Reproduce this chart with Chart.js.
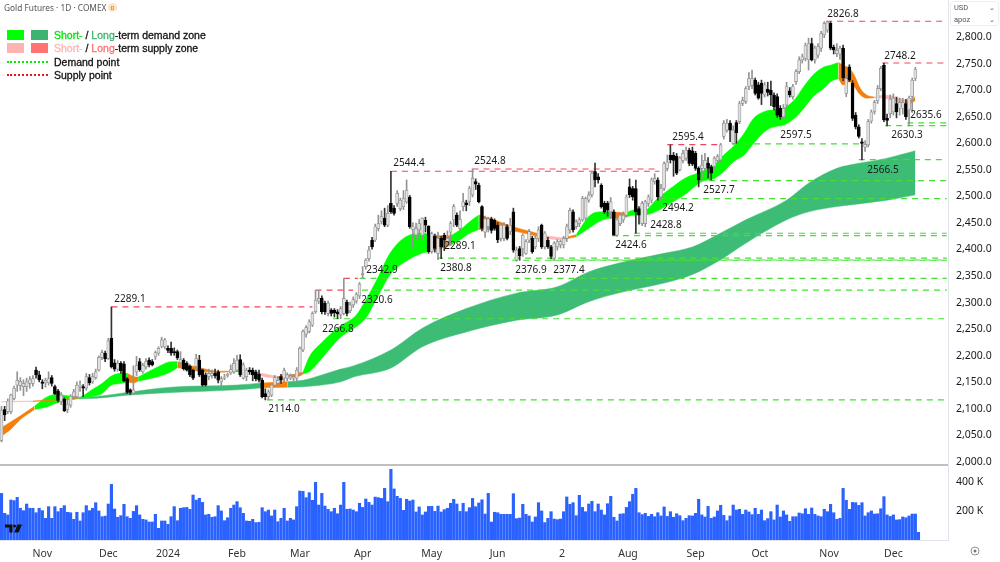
<!DOCTYPE html>
<html>
<head>
<meta charset="utf-8">
<title>Gold Futures</title>
<script src="https://cdn.jsdelivr.net/npm/chart.js@4"></script>
<style>
  html, body { margin: 0; padding: 0; background: #fff; }
  #wrap { position: relative; width: 1000px; height: 562px; overflow: hidden; }
  #wrap canvas { position: absolute; left: 0; top: 0; }
  .title { position: absolute; left: 4px; top: 2px; font: 8.3px/11px "Noto Sans", sans-serif; color: #555; white-space: nowrap; }
  .badge { position: absolute; left: 108px; top: 3px; width: 9px; height: 9px; border-radius: 50%; background: #ffe5c7; color: #f08a24; font: bold 6px/9px Roboto, sans-serif; text-align: center; }
  .legend { position: absolute; left: 7px; top: 29px; font: 10.5px/13.4px "Liberation Sans", sans-serif; color: #111; -webkit-text-stroke: 0.3px currentColor; }
  .row { height: 13.4px; position: relative; padding-left: 47px; white-space: nowrap; }
  .sw { position: absolute; top: 1px; width: 17px; height: 10px; }
  .dots { position: absolute; left: 0; top: 5px; width: 41px; border-top: 2.5px dotted; }
  .select { position: absolute; left: 952px; width: 46px; height: 12px; font: 7.5px/12px Roboto, sans-serif; color: #555; box-sizing: border-box; padding-left: 2px; }
  .select i { position: absolute; right: 3px; top: 0; font-style: normal; font-size: 7px; }
  .box { position: absolute; left: 950px; top: 1px; width: 49px; height: 25px; border: 1px solid #eceef2; border-radius: 3px; box-sizing: border-box; background: #fff; }
  svg { position: absolute; }
</style>
</head>
<body>
<div id="wrap">
  <canvas id="goldChart" width="1000" height="562"></canvas>
  <div class="title">Gold Futures · 1D · COMEX</div>
  <div class="badge">D</div>
  <div class="legend">
    <div class="row"><span class="sw" style="left:0;background:#00ff00"></span><span class="sw" style="left:24px;background:#3cb371"></span><span style="color:#00e600">Short-</span> / <span style="color:#3cb371">Long</span>-term demand zone</div>
    <div class="row"><span class="sw" style="left:0;background:#ffb3b3"></span><span class="sw" style="left:24px;background:#ff7373"></span><span style="color:#ffb3b3">Short-</span> / <span style="color:#ff7373">Long</span>-term supply zone</div>
    <div class="row"><span class="dots" style="color:#00ee00"></span>Demand point</div>
    <div class="row"><span class="dots" style="color:#f01020"></span>Supply point</div>
  </div>
  <div class="box"></div>
  <div class="select" style="top:2px">USD<i>⌄</i></div>
  <div class="select" style="top:14px">apoz<i>⌄</i></div>
  <svg style="left:5px;top:524px" width="18" height="10" viewBox="0 0 18 10">
    <path d="M0 0.5h7.5v8h-3.2v-5H0z" fill="#111"/><circle cx="9.6" cy="2" r="1.5" fill="#111"/><path d="M12.5 0.5h4.5l-3.4 8h-4.4z" fill="#111"/>
  </svg>
  <svg style="left:970px;top:546px" width="10" height="10" viewBox="0 0 10 10">
    <circle cx="5" cy="5" r="4" fill="none" stroke="#777" stroke-width="0.8"/><circle cx="5" cy="5" r="1.5" fill="#777"/>
  </svg>
</div>
<script>
// Daily candles
const opens = [
  2038,2096,2092,2092,2117,2142,2141,2139,2139,2145,
  2145,2170,2161,2148,2146,2146,2156,2139,2131,2111,
  2115,2096,2104,2120,2120,2140,2139,2136,2156,2148,
  2156,2170,2194,2202,2192,2230,2184,2172,2183,2182,
  2154,2133,2127,2167,2186,2167,2176,2189,2186,2195,
  2202,2215,2214,2211,2211,2205,2205,2184,2189,2183,
  2177,2170,2177,2189,2170,2161,2158,2160,2164,2167,
  2148,2155,2160,2165,2167,2170,2190,2155,2158,2170,
  2170,2167,2162,2151,2126,2120,2123,2142,2145,2158,
  2155,2155,2155,2155,2155,2165,2208,2238,2243,2255,
  2280,2300,2305,2296,2277,2283,2283,2280,2274,2277,
  2298,2282,2293,2300,2310,2350,2365,2380,2415,2415,
  2437,2449,2456,2443,2484,2475,2484,2474,2478,2487,
  2496,2435,2424,2434,2424,2452,2441,2393,2422,2390,
  2418,2424,2412,2430,2453,2462,2437,2478,2485,2487,
  2500,2525,2518,2478,2430,2440,2455,2452,2443,2418,
  2418,2440,2431,2468,2377,2399,2399,2390,2415,2418,
  2402,2418,2443,2402,2415,2402,2381,2402,2406,2406,
  2418,2434,2468,2440,2446,2453,2456,2490,2500,2544,
  2534,2518,2484,2484,2468,2468,2424,2446,2453,2462,
  2515,2512,2512,2474,2446,2446,2484,2490,2525,2528,
  2496,2512,2550,2575,2575,2573,2547,2565,2569,2584,
  2583,2578,2550,2550,2550,2560,2553,2553,2565,2566,
  2610,2622,2635,2597,2636,2638,2672,2676,2704,2706,
  2716,2707,2710,2688,2699,2697,2688,2685,2663,2647,
  2669,2696,2685,2713,2732,2754,2757,2754,2785,2754,
  2763,2776,2801,2810,2823,2778,2766,2765,2776,2691,
  2741,2710,2650,2628,2600,2590,2594,2639,2657,2677,
  2700,2744,2644,2653,2656,2672,2663,2663,2672,2660,
  2685,2719
];
const highs = [
  2102,2102,2116,2125,2140,2167,2156,2152,2155,2158,
  2160,2176,2168,2152,2155,2167,2160,2142,2134,2128,
  2118,2115,2124,2134,2148,2150,2143,2164,2162,2164,
  2172,2197,2208,2206,2230,2289.1,2190,2188,2186,2186,
  2156,2135,2178,2196,2192,2183,2192,2193,2190,2206,
  2214,2232,2230,2216,2223,2212,2208,2205,2192,2186,
  2180,2172,2200,2198,2172,2165,2172,2170,2172,2170,
  2158,2162,2164,2180,2192,2198,2199,2184,2174,2175,
  2174,2170,2170,2155,2135,2133,2145,2160,2158,2162,
  2174,2165,2163,2162,2175,2214,2246,2254,2265,2280,
  2320.6,2320,2310,2300,2300,2286,2286,2284,2290,2342.9,
  2302,2298,2308,2316,2335,2365,2380,2403,2420,2445,
  2462,2470,2475,2480,2544.4,2480,2508,2494,2508,2528,
  2499,2448,2447,2454,2457,2458,2442,2430,2426,2430,
  2422,2428,2432,2450,2482,2466,2470,2503,2490,2516,
  2549,2530,2522,2480,2460,2458,2458,2455,2448,2446,
  2448,2444,2456,2475,2402,2403,2427,2416,2435,2422,
  2422,2440,2445,2431,2420,2405,2412,2416,2415,2422,
  2445,2475,2472,2453,2457,2497,2496,2506,2545,2560,
  2540,2521,2488,2488,2495,2472,2458,2466,2468,2500,
  2530,2516,2528,2478,2488,2490,2500,2532,2540,2532,
  2520,2562,2575,2594,2580,2578,2572,2584,2590,2588,
  2590,2582,2553,2575,2578,2570,2556,2572,2576,2597,
  2640,2642,2640,2630,2640,2676,2684,2704,2730,2735,
  2720,2712,2716,2712,2712,2714,2692,2690,2668,2670,
  2712,2702,2708,2736,2760,2765,2786,2795,2795,2780,
  2785,2808,2826,2826.8,2826,2782,2785,2780,2782,2723,
  2745,2715,2655,2632,2606,2602,2642,2660,2678,2706,
  2742,2748.2,2652,2688,2690,2684,2682,2682,2680,2686,
  2720,2740
];
const lows = [
  2035,2075,2088,2088,2114,2130,2132,2122,2130,2136,
  2140,2155,2148,2135,2138,2142,2140,2124,2110,2105,
  2092,2090,2100,2115,2118,2130,2120,2132,2142,2145,
  2153,2168,2190,2186,2190,2174,2168,2168,2164,2148,
  2126,2124,2124,2160,2168,2164,2172,2176,2178,2190,
  2198,2212,2210,2203,2198,2198,2190,2180,2170,2168,
  2158,2152,2172,2158,2140,2140,2152,2155,2155,2146,
  2140,2152,2157,2162,2164,2168,2158,2153,2150,2162,
  2150,2150,2148,2118,2114,2114,2120,2140,2142,2145,
  2148,2150,2152,2150,2150,2162,2205,2232,2240,2252,
  2277,2295,2276,2275,2272,2272,2270,2267,2267,2274,
  2272,2278,2288,2296,2305,2343,2360,2375,2398,2412,
  2432,2445,2440,2440,2465,2462,2478,2470,2472,2484,
  2437,2400,2415,2420,2417,2430,2390,2390,2392,2378,
  2380,2395,2405,2405,2440,2440,2434,2470,2470,2480,
  2496,2510,2485,2432,2420,2430,2428,2433,2410,2413,
  2414,2415,2425,2392,2375,2377,2384,2388,2410,2390,
  2398,2412,2399,2398,2399,2380,2377,2396,2400,2400,
  2412,2428,2430,2436,2440,2450,2452,2486,2496,2515,
  2522,2475,2465,2460,2455,2424,2422,2442,2448,2458,
  2495,2490,2428,2445,2442,2440,2478,2485,2520,2490,
  2490,2508,2545,2560,2535,2538,2545,2560,2565,2555,
  2555,2546,2515,2530,2546,2532,2528,2548,2560,2562,
  2605,2618,2600,2595,2597,2634,2668,2672,2698,2700,
  2688,2680,2670,2684,2686,2668,2660,2646,2642,2642,
  2666,2684,2680,2708,2728,2748,2752,2735,2752,2748,
  2758,2770,2796,2806,2773,2765,2760,2755,2715,2685,
  2713,2640,2624,2607,2566,2582,2590,2635,2652,2672,
  2696,2638,2630,2645,2650,2645,2650,2652,2642,2630,
  2655,2715
];
const closes = [
  2095,2086,2112,2123,2136,2151,2149,2145,2148,2152,
  2154,2161,2152,2145,2151,2154,2145,2126,2113,2123,
  2094,2106,2121,2129,2142,2142,2136,2158,2146,2158,
  2167,2194,2203,2191,2225,2176,2172,2183,2169,2150,
  2128,2128,2133,2179,2171,2179,2186,2180,2180,2203,
  2211,2227,2227,2207,2202,2203,2193,2190,2173,2170,
  2161,2155,2192,2161,2142,2142,2164,2164,2159,2151,
  2154,2157,2162,2171,2183,2189,2161,2180,2170,2167,
  2161,2154,2151,2120,2120,2129,2142,2156,2151,2151,
  2169,2161,2159,2158,2170,2211,2243,2250,2261,2277,
  2302,2305,2280,2280,2296,2277,2278,2276,2286,2305,
  2277,2293,2303,2313,2332,2352,2377,2396,2402,2440,
  2446,2459,2443,2465,2468,2465,2503,2490,2493,2509,
  2440,2440,2437,2446,2456,2443,2393,2427,2399,2418,
  2402,2415,2418,2446,2478,2443,2454,2487,2481,2512,
  2531,2520,2487,2437,2455,2455,2433,2437,2415,2443,
  2443,2418,2443,2396,2396,2385,2424,2412,2431,2393,
  2418,2434,2402,2428,2402,2384,2409,2412,2412,2418,
  2440,2471,2434,2449,2453,2493,2493,2500,2541,2528,
  2528,2478,2468,2471,2487,2424,2453,2462,2462,2496,
  2500,2496,2468,2462,2484,2487,2496,2528,2531,2496,
  2512,2559,2562,2566,2565,2541,2569,2578,2584,2559,
  2558,2550,2528,2556,2565,2550,2541,2569,2572,2594,
  2635,2635,2622,2622,2617,2672,2678,2700,2719,2719,
  2691,2682,2691,2707,2693,2688,2666,2650,2647,2663,
  2704,2688,2704,2732,2754,2760,2782,2785,2754,2776,
  2779,2804,2823,2825,2776,2773,2772,2776,2720,2719,
  2716,2644,2628,2610,2597,2595,2638,2656,2674,2700,
  2738,2641,2640,2680,2682,2656,2674,2674,2647,2682,
  2716,2736
];
// Volume per day, in thousands
const volumes = [
  316,181,170,271,267,289,215,199,244,215,215,185,215,199,147,226,147,226,192,215,
  233,188,185,140,188,129,185,233,199,215,253,197,158,162,244,377,210,154,165,242,
  158,147,194,233,170,140,136,122,122,174,79,129,129,106,158,226,131,215,219,221,
  208,305,271,283,255,170,174,154,158,233,197,131,151,215,237,260,219,181,129,127,
  140,118,120,219,192,203,163,203,124,147,215,129,147,136,226,332,330,287,321,269,
  391,237,
  316,230,208,192,215,178,237,391,208,210,203,192,249,221,278,255,237,291,287,282,
  350,260,479,346,296,282,201,276,264,271,190,224,170,190,228,228,194,230,190,206,
  215,249,276,244,194,249,192,219,282,226,251,273,176,316,122,188,185,174,174,174,
  174,314,145,149,242,174,163,122,156,253,197,118,147,192,142,138,142,192,292,242,
  253,165,303,221,192,244,262,192,244,203,170,246,296,154,129,176,178,221,260,310,
  350,185,172,181,160,174,158,185,163,224,160,192,154,178,165,131,147,165,163,181,
  276,170,156,228,147,156,197,235,167,131,163,237,203,208,174,203,190,172,215,174,
  203,131,145,192,136,237,156,197,170,127,158,158,183,178,212,174,217,174,163,158,
  208,192,242,185,140,147,350,269,208,255,253,235,253,163,185,197,176,178,212,294,
  170,160,170,136,138,156,151,163,176,176,52
];

// Axis ticks
const priceTicks = [2000,2050,2100,2150,2200,2250,2300,2350,2400,2450,2500,2550,2600,2650,2700,2750,2800];
const volumeTicks = [200,400];
const monthTickIdx = [13,34,53,75,95,115,137,158,178.5,199.5,221,241.5,263.5,284];
const monthLabels = ["Nov","Dec","2024","Feb","Mar","Apr","May","Jun","2","Aug","Sep","Oct","Nov","Dec"];

// Short-term zone edges (bar index, upper, lower)
const shortIdx = [0,3,6,10.5,14,17,20,24.5,29,32,35,38,40,42,43.5,50,54,56,60,63,69,74,77,80,84,88,90,95,96,98,102,107.6,113,116,119.5,123.7,128.5,134.3,136,142,143,146,149.2,152,156,160,164,168.5,172.5,177,179,183,187.5,191.5,194,198.5,202,204.5,209,213,217.5,223,227,230,233,236.5,239.5,243,246,249,252.5,255.5,258.5,262,264,266.5,268,270,271.5,273.5,275.5,278,281,286,288,289,291];
const shortUpper = [2062,2073,2084,2102,2118,2124,2123,2119,2134,2145,2159,2164,2164,2158,2157,2177,2186,2186,2179,2175,2168,2168,2170,2167,2163,2158,2160,2164,2166,2195,2222,2252,2274,2302,2340,2390,2420,2428,2425,2423,2423,2434,2450,2462,2455,2446,2438,2431,2424,2420,2419,2425,2462,2468,2468,2466,2472,2470,2494,2512,2531,2544,2556,2575,2591,2616,2644,2657,2660,2663,2679,2704,2726,2741,2744,2749,2744,2738,2726,2700,2688,2684,2688,2682,2678,2677,2685];
const shortLower = [2046,2059,2077,2096,2100,2107,2113,2117,2120,2126,2142,2145,2148,2146,2149,2158,2167,2175,2170,2168,2166,2167,2167,2165,2157,2155,2156,2159,2163,2167,2192,2230,2252,2268,2305,2349,2374,2391,2393,2403,2405,2415,2428,2435,2435,2435,2431,2425,2419,2416,2416,2421,2439,2453,2456,2458,2462,2462,2470,2484,2500,2525,2531,2544,2562,2575,2597,2619,2628,2631,2644,2663,2685,2701,2713,2719,2707,2713,2704,2688,2682,2683,2682,2674,2672,2672,2677];
const shortBreaks = [0,10.5,40,43.5,56,74,77,88,96,136,143,152,172.5,179,183,194,198.5,266.5,278,288,291];
const shortKinds = ["fading","demand","fading","demand","fading","demand","supply","fading","demand","fading","demand","fading","supply","fading","demand","fading","demand","fading","supply","fading"];

// Long-term zone edges
const longIdx = [0,10,24.5,30,40,54,75,83,91,96,102,108,112,124,134,148,164,177,187,197,211,220,229,237,250,257,266,270,282,291];
const longUpper = [2111,2112,2117,2120,2128,2138,2142,2146,2148,2151,2161,2172,2178,2208,2249,2286,2315,2327,2355,2372,2390,2402,2428,2453,2490,2522,2550,2556,2569,2583];
const longLower = [2110,2111,2116,2117,2123,2128,2133,2137,2138,2139,2142,2148,2157,2174,2214,2242,2264,2274,2299,2316,2334,2350,2378,2409,2453,2468,2478,2481,2490,2500];
const longBreaks = [0,10,24.5,83,91,291];
const longKinds = ["supply","fading","long","fading","long"];

// Supply and demand levels
const supplyValues = [2289.1,2320.6,2342.9,2544.4,2548.7,2594.4,2826.8,2748.2];
const supplyFrom = [35,100,109,124,150,212,262.6,280.5];
const supplyTo = [99,112,113.5,209.5,209.5,229,301,301];
const demandValues = [2114,2266.8,2320.6,2342.9,2380.8,2376.9,2377.4,2423.4,2427.7,2493,2526.8,2595.8,2566.5,2635.6,2630.3];
const demandFrom = [84.5,105.6,114.8,114,138.7,162.6,174.7,194.4,201.4,209.4,221.8,232.6,273,288.4,281.4];
const demandTo = [301,301,301,301,301,301,301,301,301,301,301,273.4,301,301,301];

// Pivot labels
const pivotTexts = ["2289.1","2114.0","2266.8","2320.6","2342.9","2544.4","2289.1","2380.8","2524.8","2376.9","2377.4","2424.6","2428.8","2494.2","2527.7","2595.4","2597.5","2826.8","2748.2","2566.5","2635.6","2630.3"];

const GREEN = "#00ff00";
const ZONE_COLORS = { demand: GREEN, long: "#3cbc74", fading: "#f57f0d", supply: "#ffb6b6" };
const PIVOT_TEXT_X = [130,284,338,377,382,409,460,456,490,531,569,631,666,678,719,688,796,843,900,883,926,907];
const PIVOT_TEXT_Y = [299,409,329,300,270,163,246,268,161,270,270,245,225,208,190,137,135,14,56,170,115,135];
const AXIS_FONT = { family: '"Noto Sans", sans-serif', size: 10.5 };

/**
 * Turn zone edge lists into pairs of line datasets filled between each other
 */
function zoneDatasets(idx, upper, lower, breaks, kinds) {
  const sets = [];
  kinds.forEach((kind, s) => {
    const keep = idx.map((v, k) => k).filter((k) => idx[k] >= breaks[s] && idx[k] <= breaks[s + 1]);
    const color = ZONE_COLORS[kind];
    sets.push({
      type: "line", order: 6, borderWidth: 0.5, borderColor: color, pointRadius: 0, fill: false,
      cubicInterpolationMode: "monotone",
      data: keep.map((k) => ({ x: idx[k], y: upper[k] })),
    });
    sets.push({
      type: "line", order: 6, borderWidth: 0.5, borderColor: color, backgroundColor: color, pointRadius: 0, fill: "-1",
      cubicInterpolationMode: "monotone",
      data: keep.map((k) => ({ x: idx[k], y: lower[k] })),
    });
  });
  return sets;
}

/**
 * One dashed line dataset per level
 */
function levelDatasets(values, from, to, color) {
  return values.map((v, k) => ({
    type: "line", order: 5, borderWidth: 1.2, borderColor: color, borderDash: [6, 5], pointRadius: 0, fill: false,
    data: [{ x: from[k], y: v }, { x: to[k], y: v }],
  }));
}

// Drop the half-label padding the layout adds around an axis
function noPadding(axis) {
  axis.paddingTop = 0;
  axis.paddingBottom = 0;
  axis.paddingLeft = 0;
  axis.paddingRight = 0;
}

const isUp = (i) => closes[i] >= opens[i];

const wicks = {
  type: "bar", order: 3, grouped: false, barThickness: 1, yAxisID: "y",
  backgroundColor: opens.map((o, i) => (isUp(i) ? "#949494" : "#333333")),
  data: opens.map((o, i) => ({ x: i, y: [lows[i], highs[i]] })),
};
const bodies = {
  type: "bar", order: 2, grouped: false, barThickness: 3, yAxisID: "y", borderSkipped: false, borderWidth: 0.7,
  backgroundColor: opens.map((o, i) => (isUp(i) ? "#e0e0e0" : "#000000")),
  borderColor: opens.map((o, i) => (isUp(i) ? "#8c8c8c" : "#000000")),
  data: opens.map((o, i) => ({ x: i, y: [o, closes[i]] })),
};
const volumeBars = {
  type: "bar", order: 4, grouped: false, barThickness: 2.5, yAxisID: "vol",
  backgroundColor: "#2962ff",
  data: volumes.map((v, i) => ({ x: i, y: v })),
};

// Panel divider and pivot labels
const overlayPlugin = {
  id: "overlay",
  afterDraw(chart) {
    const { ctx, scales } = chart;
    ctx.save();
    ctx.strokeStyle = "#7f8287";
    ctx.lineWidth = 1.2;
    ctx.beginPath();
    ctx.moveTo(0, scales.y.bottom);
    ctx.lineTo(scales.x.right, scales.y.bottom);
    ctx.stroke();
    ctx.fillStyle = "#1a1a1a";
    ctx.font = '10px "Noto Sans", sans-serif';
    ctx.textAlign = "center";
    ctx.textBaseline = "middle";
    pivotTexts.forEach((t, k) => ctx.fillText(t, PIVOT_TEXT_X[k], PIVOT_TEXT_Y[k]));
    ctx.restore();
  },
};

new Chart(document.getElementById("goldChart"), {
  data: {
    datasets: [
      ...zoneDatasets(longIdx, longUpper, longLower, longBreaks, longKinds),
      ...zoneDatasets(shortIdx, shortUpper, shortLower, shortBreaks, shortKinds),
      ...levelDatasets(demandValues, demandFrom, demandTo, "#44e033"),
      ...levelDatasets(supplyValues, supplyFrom, supplyTo, "#f0475c"),
      volumeBars,
      wicks,
      bodies,
    ],
  },
  options: {
    responsive: false,
    animation: false,
    events: [],
    layout: { padding: 0 },
    plugins: { legend: { display: false }, tooltip: { enabled: false } },
    scales: {
      x: {
        type: "linear",
        offset: false,
        min: -0.48,
        max: 301.4,
        grid: { display: false },
        border: { color: "#e0e3eb" },
        afterBuildTicks: (axis) => { axis.ticks = monthTickIdx.map((v) => ({ value: v })); },
        afterFit: (axis) => { axis.height = 22; noPadding(axis); },
        ticks: {
          autoSkip: false,
          maxRotation: 0,
          padding: 0,
          color: "#333",
          font: AXIS_FONT,
          callback: (v) => monthLabels[monthTickIdx.indexOf(v)],
        },
      },
      y: {
        type: "linear",
        position: "right",
        stack: "panels",
        stackWeight: 465,
        min: 1991.5,
        max: 2866.8,
        grid: { display: false },
        border: { color: "#e0e3eb" },
        afterBuildTicks: (axis) => { axis.ticks = priceTicks.map((v) => ({ value: v })); },
        afterFit: (axis) => { axis.width = 52; noPadding(axis); },
        ticks: {
          autoSkip: false,
          padding: 0,
          labelOffset: 1.5,
          color: "#1a1a1a",
          font: AXIS_FONT,
          callback: (v) => v.toLocaleString("en-US", { minimumFractionDigits: 1 }),
        },
      },
      vol: {
        type: "linear",
        position: "right",
        stack: "panels",
        stackWeight: 75,
        min: 0,
        max: 508.5,
        grid: { display: false },
        border: { color: "#e0e3eb" },
        afterBuildTicks: (axis) => { axis.ticks = volumeTicks.map((v) => ({ value: v })); },
        afterFit: (axis) => { axis.width = 52; noPadding(axis); },
        ticks: {
          autoSkip: false,
          padding: 0,
          labelOffset: 1,
          color: "#1a1a1a",
          font: AXIS_FONT,
          callback: (v) => v + " K",
        },
      },
    },
  },
  plugins: [overlayPlugin],
});
</script>
</body>
</html>
